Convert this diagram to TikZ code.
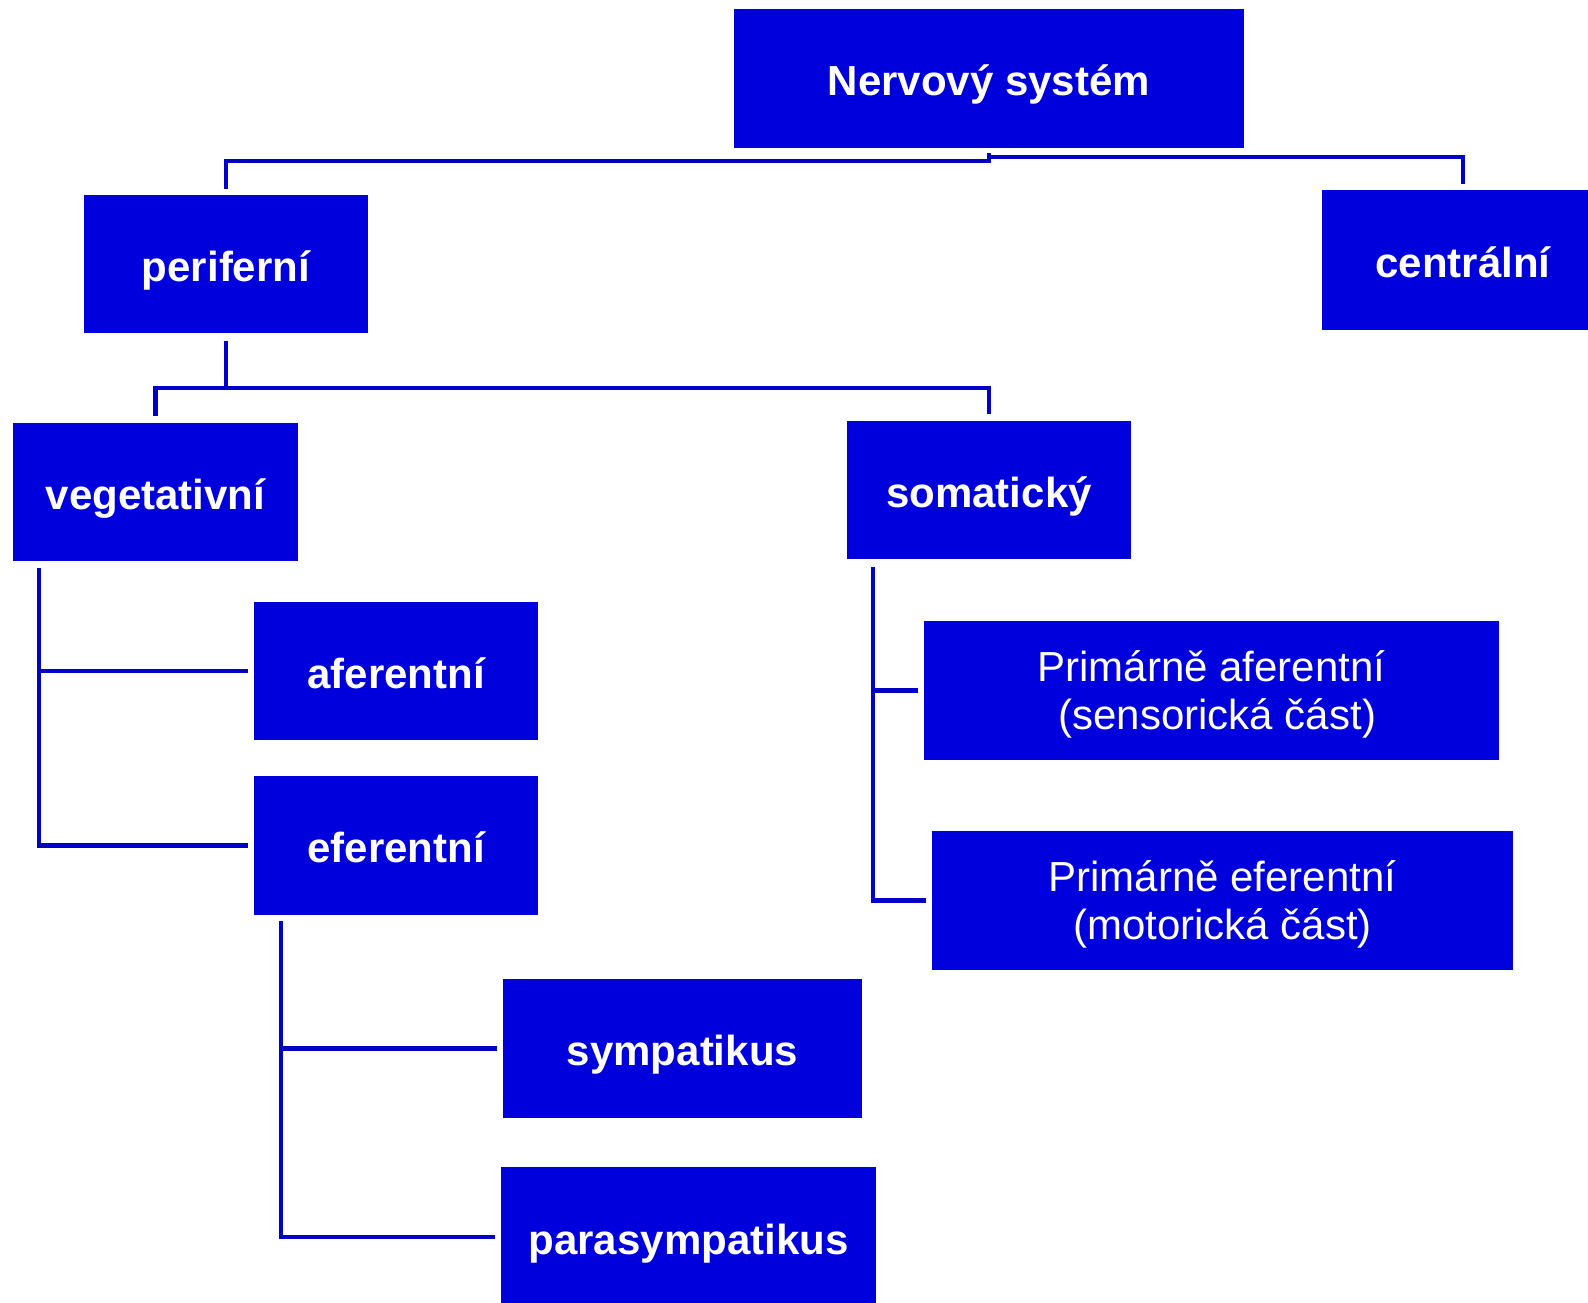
\documentclass[tikz,border=0pt]{standalone}
\usepackage{fontspec}
\setmainfont{Liberation Sans}
\definecolor{boxblue}{RGB}{0,0,220}
\definecolor{lineblue}{RGB}{0,0,200}
\begin{document}
\begin{tikzpicture}[x=1pt,y=-1pt,
  box/.style={fill=boxblue,draw=none,inner sep=0pt,text=white,align=center,
    font=\fontsize{42}{48}\selectfont\bfseries,text height=40pt,text depth=6pt},
  plainbox/.style={fill=boxblue,draw=none,inner sep=0pt,text=white,align=center,
    font=\fontsize{42}{48}\selectfont,text height=85pt,text depth=8pt},
  conn/.style={draw=lineblue,line width=4.5pt}]
\useasboundingbox (0,0) rectangle (1588,1302);
\node[box,minimum width=510pt,minimum height=139pt] (ns) at (989,78.5) {Nervový systém};
\node[box,minimum width=284pt,minimum height=138pt] (per) at (226,264) {periferní};
\node[box,minimum width=282pt,minimum height=140pt] (cen) at (1463,260) {centrální};
\node[box,minimum width=285pt,minimum height=138pt] (veg) at (155.5,492) {vegetativní};
\node[box,minimum width=284pt,minimum height=138pt] (som) at (989,490) {somatický};
\node[box,minimum width=284pt,minimum height=138pt] (afe) at (396,671) {aferentní};
\node[box,minimum width=284pt,minimum height=139pt] (efe) at (396,845.5) {eferentní};
\node[box,minimum width=359pt,minimum height=139pt] (sym) at (682.5,1048.5) {sympatikus};
\node[box,minimum width=375pt,minimum height=140pt] (par) at (688.5,1237) {parasympatikus};
\node[plainbox,minimum width=575pt,minimum height=139pt] (pa) at (1211.5,690.5) {Primárně aferentní\\~(sensorická část)};
\node[plainbox,minimum width=581pt,minimum height=139pt] (pe) at (1222.5,900.5) {Primárně eferentní\\(motorická část)};
% top level
\draw[conn] ([yshift=-5pt]ns.south) -- ([yshift=-13pt]ns.south) -| ([yshift=6pt]per.north);
\draw[conn] ([yshift=-9pt]ns.south) -| ([yshift=6pt]cen.north);
% periferni
\draw[conn] ([yshift=-8pt]per.south) -- ([yshift=-55pt]per.south);
\draw[conn] ([yshift=7pt]veg.north) |- ([yshift=-55pt]per.south) -| ([yshift=7pt]som.north);
% vegetativni
\coordinate (vj) at ([xshift=26pt,yshift=-7pt]veg.south west);
\draw[conn] (vj) |- ([xshift=-6pt]efe.west);
\draw[conn] (vj |- afe.west) -- ([xshift=-6pt]afe.west);
% eferentni
\coordinate (ej) at ([xshift=27pt,yshift=-6pt]efe.south west);
\draw[conn] (ej) |- ([xshift=-6pt]par.west);
\draw[conn] (ej |- sym.west) -- ([xshift=-6pt]sym.west);
% somaticky
\coordinate (sj) at ([xshift=26pt,yshift=-8pt]som.south west);
\draw[conn] (sj) |- ([xshift=-6pt]pe.west);
\draw[conn] (sj |- pa.west) -- ([xshift=-6pt]pa.west);
\end{tikzpicture}
\end{document}
